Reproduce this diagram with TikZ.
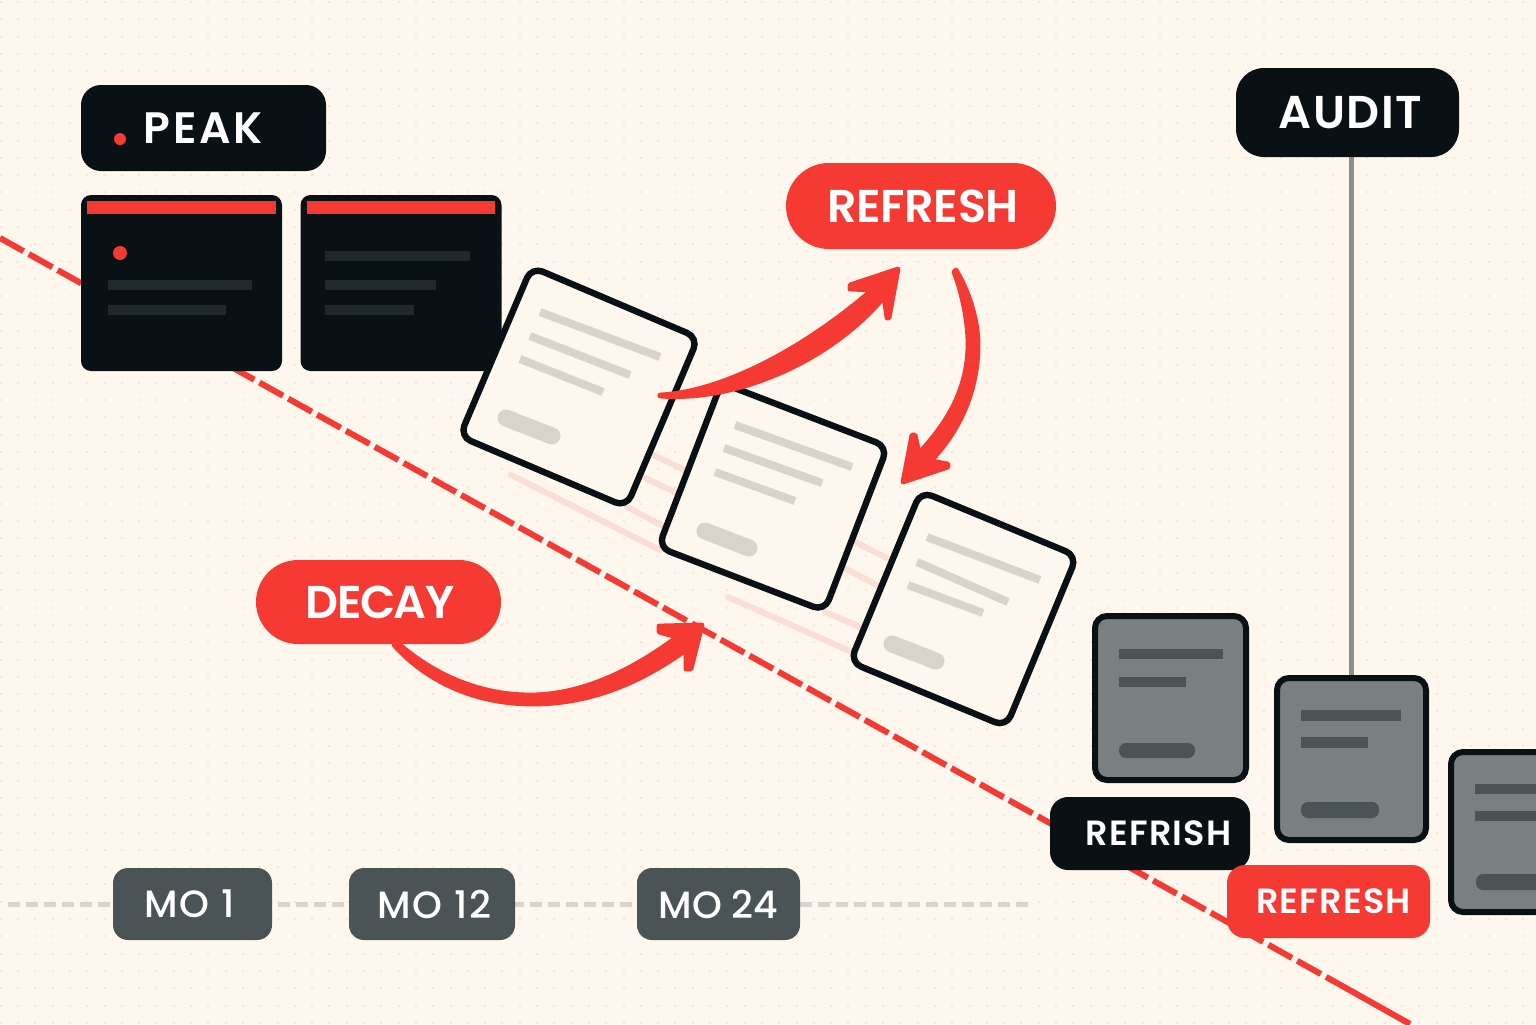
\documentclass[tikz,border=0pt]{standalone}
\usepackage{fontspec}
\setmainfont{Poppins}[BoldFont={Poppins SemiBold}]
\newfontfamily\pmed{Poppins Medium}
\newcommand\lsp[1]{\addfontfeature{LetterSpace=#1}}
\definecolor{bg}{HTML}{FEF7EE}
\definecolor{griddot}{HTML}{EFE9DD}
\definecolor{ink}{HTML}{0A1114}
\definecolor{inkbar}{HTML}{1F282A}
\definecolor{redc}{HTML}{F43A32}
\definecolor{pinkc}{HTML}{FBDED6}
\definecolor{linec}{HTML}{D8D4CC}
\definecolor{greyc}{HTML}{7A7F80}
\definecolor{greybar}{HTML}{4A5355}
\definecolor{stemc}{HTML}{8A8F8C}
\tikzset{
  tag/.style={inner sep=0pt,outer sep=0pt,text=white,font=\bfseries\fontsize{#1}{#1}\selectfont},
  darktag/.style={tag=#1,fill=ink},
  redtag/.style={tag=#1,fill=redc},
  motag/.style={inner sep=0pt,outer sep=0pt,fill=greybar,text=white,rounded corners=7.5pt,minimum height=36pt,font=\pmed\fontsize{19}{19}\selectfont},
  darkcard/.style={fill=ink,rounded corners=5pt,inner sep=0pt,outer sep=0pt,minimum height=88pt,minimum width=100.5pt},
  papercard/.style={fill=bg,draw=ink,line width=3.2pt,rounded corners=6pt,inner sep=0pt,outer sep=0pt},
  greycard/.style={fill=greyc,draw=ink,line width=3pt,rounded corners=6pt,inner sep=0pt,outer sep=0pt},
  ghost/.style={draw=pinkc,line width=3pt,line cap=round},
  cardline/.style={draw=linec,line width=4pt},
  cardpill/.style={draw=linec,line width=8.5pt,line cap=round},
  inkbarf/.style={fill=inkbar},
  greybarf/.style={fill=greybar},
  arrowshape/.style={fill=redc,draw=redc,line width=2.4pt,line join=round},
}
\begin{document}
\begin{tikzpicture}[x=0.5pt,y=-0.5pt]
\useasboundingbox (0,0) rectangle (1536,1024);
\clip (0,0) rectangle (1536,1024);
\fill[bg] (0,0) rectangle (1536,1024);
% dot grid
\foreach \i in {0,...,88}{\foreach \j in {0,...,59}{
  \fill[griddot] ({0.7+17.3*\i-1},{2.1+17.3*\j-1}) rectangle ++(2,2);}}
% decay line
\coordinate (lineA) at (0,238);
\coordinate (lineB) at (1337,983);
\coordinate (lineC) at (1410,1024);
\draw[redc,line width=3pt,dash pattern=on 13.5pt off 3pt] (lineA) -- (lineB);
\draw[redc,line width=3pt] (lineB) -- (lineC);
% timeline
\coordinate (tlA) at (8,904);
\coordinate (tlB) at (1030,904);
\draw[linec,line width=2.5pt,dash pattern=on 6pt off 3pt] (tlA) -- (tlB);
\node[motag,minimum width=79.5pt] (mo1) at (192.5,904) {\lsp{4.5}MO 1\hspace*{3pt}};
\node[motag,minimum width=83pt] (mo12) at (432,904) {\hspace*{2.5pt}\lsp{4.2}MO 12};
\node[motag,minimum width=81.5pt] (mo24) at (718.5,904) {MO 24};
% ghost strokes
\draw[ghost] (511,475) -- (660,550);
\draw[ghost] (653,455) -- (685,470);
\draw[ghost] (645,478) -- (677,493);
\draw[ghost] (627,507) -- (665,527);
\draw[ghost] (855,542) -- (887,558);
\draw[ghost] (844,568) -- (877,585);
\draw[ghost] (825,612) -- (860,627);
\draw[ghost] (728,597) -- (852,652);
% peak
\node[darktag=22,rounded corners=10pt,minimum width=122.5pt,minimum height=43pt] (peak) at (203.5,128) {\lsp{6.2}PEAK};
\fill[redc] (120,139) circle[radius=6];
\node[darkcard] (cardA) at (181.5,283) {};
\node[darkcard] (cardB) at (401,283) {};
\fill[redc] (87,201) rectangle (276,214);
\fill[redc] (307,201) rectangle (495,214);
\fill[redc] (120,253) circle[radius=7];
\fill[inkbarf] (108,280) rectangle (252,290);
\fill[inkbarf] (108,305) rectangle (226,315);
\fill[inkbarf] (325,251) rectangle (470,261);
\fill[inkbarf] (325,280) rectangle (436,290);
\fill[inkbarf] (325,305) rectangle (414,315);
% paper cards
\node[papercard,rotate=-23,minimum width=90.5pt,minimum height=92pt] (paperA) at (579,387) {};
\draw[cardline] (540,312) -- (660,357);
\draw[cardline] (530,336) -- (630,375);
\draw[cardline] (520,359) -- (603,392);
\draw[cardpill] (506,418) -- (552,436);
\node[papercard,rotate=-21,minimum width=89pt,minimum height=88pt] (paperB) at (773,497) {};
\draw[cardline] (735,425) -- (852,467);
\draw[cardline] (724,448) -- (822,483);
\draw[cardline] (715,472) -- (795,501);
\draw[cardpill] (705,531) -- (749,548);
\node[papercard,rotate=-22.5,minimum width=84.5pt,minimum height=92.5pt] (paperC) at (963.5,609) {};
\draw[cardline] (927,537) -- (1040,580);
\draw[cardline] (917,562) -- (1008,602);
\draw[cardline] (908,585) -- (983,613);
\draw[cardpill] (892,644) -- (936,661);
% grey cards
\draw[stemc,line width=2.5pt] (1351,150) -- (1351,680);
\node[greycard,minimum width=75.5pt,minimum height=82pt] (greyA) at (1170.5,698) {};
\fill[greybarf] (1119,649) rectangle (1223,659);
\fill[greybarf] (1119,677) rectangle (1186,687);
\fill[greybarf,rounded corners=3.5pt] (1119,743) rectangle (1195,758);
\node[greycard,minimum width=74.5pt,minimum height=81pt] (greyB) at (1351.5,759) {};
\fill[greybarf] (1301,710) rectangle (1401,721);
\fill[greybarf] (1301,737) rectangle (1368,748);
\fill[greybarf,rounded corners=3.5pt] (1301,802) rectangle (1379,818);
\node[greycard,minimum width=74.5pt,minimum height=80pt] (greyC) at (1525.5,832) {};
\fill[greybarf] (1475,784) rectangle (1575,794);
\fill[greybarf] (1475,811) rectangle (1575,821);
\fill[greybarf,rounded corners=3.5pt] (1476,874) rectangle (1560,890);
% tags
\node[darktag=23,rounded corners=14pt,minimum width=111.5pt,minimum height=44.5pt] (audit) at (1347.5,112.5) {\hspace*{3pt}\lsp{3.5}AUDIT};
\node[redtag=23,rounded corners=21.5pt,minimum width=135pt,minimum height=43pt] (refresh) at (921,206) {\hspace*{2pt}\lsp{-0.6}REFRESH};
\node[redtag=23,rounded corners=21pt,minimum width=122.5pt,minimum height=42pt] (decay) at (378.5,602) {\hspace*{1.5pt}\lsp{-3.5}DECAY};
\node[darktag=17.5,rounded corners=9pt,minimum width=100pt,minimum height=36.5pt] (refrish) at (1150,833.5) {\hspace*{8.5pt}\lsp{3.7}REFRISH};
\node[redtag=17.5,rounded corners=9pt,minimum width=101.5pt,minimum height=36.5pt] (refreshB) at (1328.5,901.5) {\hspace*{5pt}\lsp{3.7}REFRESH};
% arrows
\coordinate (tipDecay) at (702,625);
\coordinate (tipUp) at (898,269);
\coordinate (tipDown) at (903,482);
\fill[arrowshape] (394,645)
  .. controls (430,685) and (480,704) .. (533,704)
  .. controls (590,704) and (640,683) .. (686,650)
  -- (686,669) -- (691,669) -- (tipDecay) -- (659,626) -- (659,632) -- (677,637)
  .. controls (630,672) and (580,695) .. (530,695)
  .. controls (480,695) and (435,675) .. (400,645) -- cycle;
\fill[arrowshape] (660,395) .. controls (720,392) and (800,352) .. (872,290)
  -- (850,289) -- (850,285) -- (tipUp) -- (889,318) -- (887,318) -- (884,297)
  .. controls (830,362) and (735,402) .. (660,396) -- cycle;
\fill[arrowshape] (954,272) -- (956,270)
  .. controls (971,295) and (979,325) .. (978,350)
  .. controls (976,400) and (955,435) .. (931,461)
  -- (948,464) -- (948,467) -- (tipDown) -- (912,435) -- (915,435) -- (919,453)
  .. controls (950,420) and (969,385) .. (968,340)
  .. controls (967,315) and (961,290) .. (954,272) -- cycle;
\end{tikzpicture}
\end{document}
